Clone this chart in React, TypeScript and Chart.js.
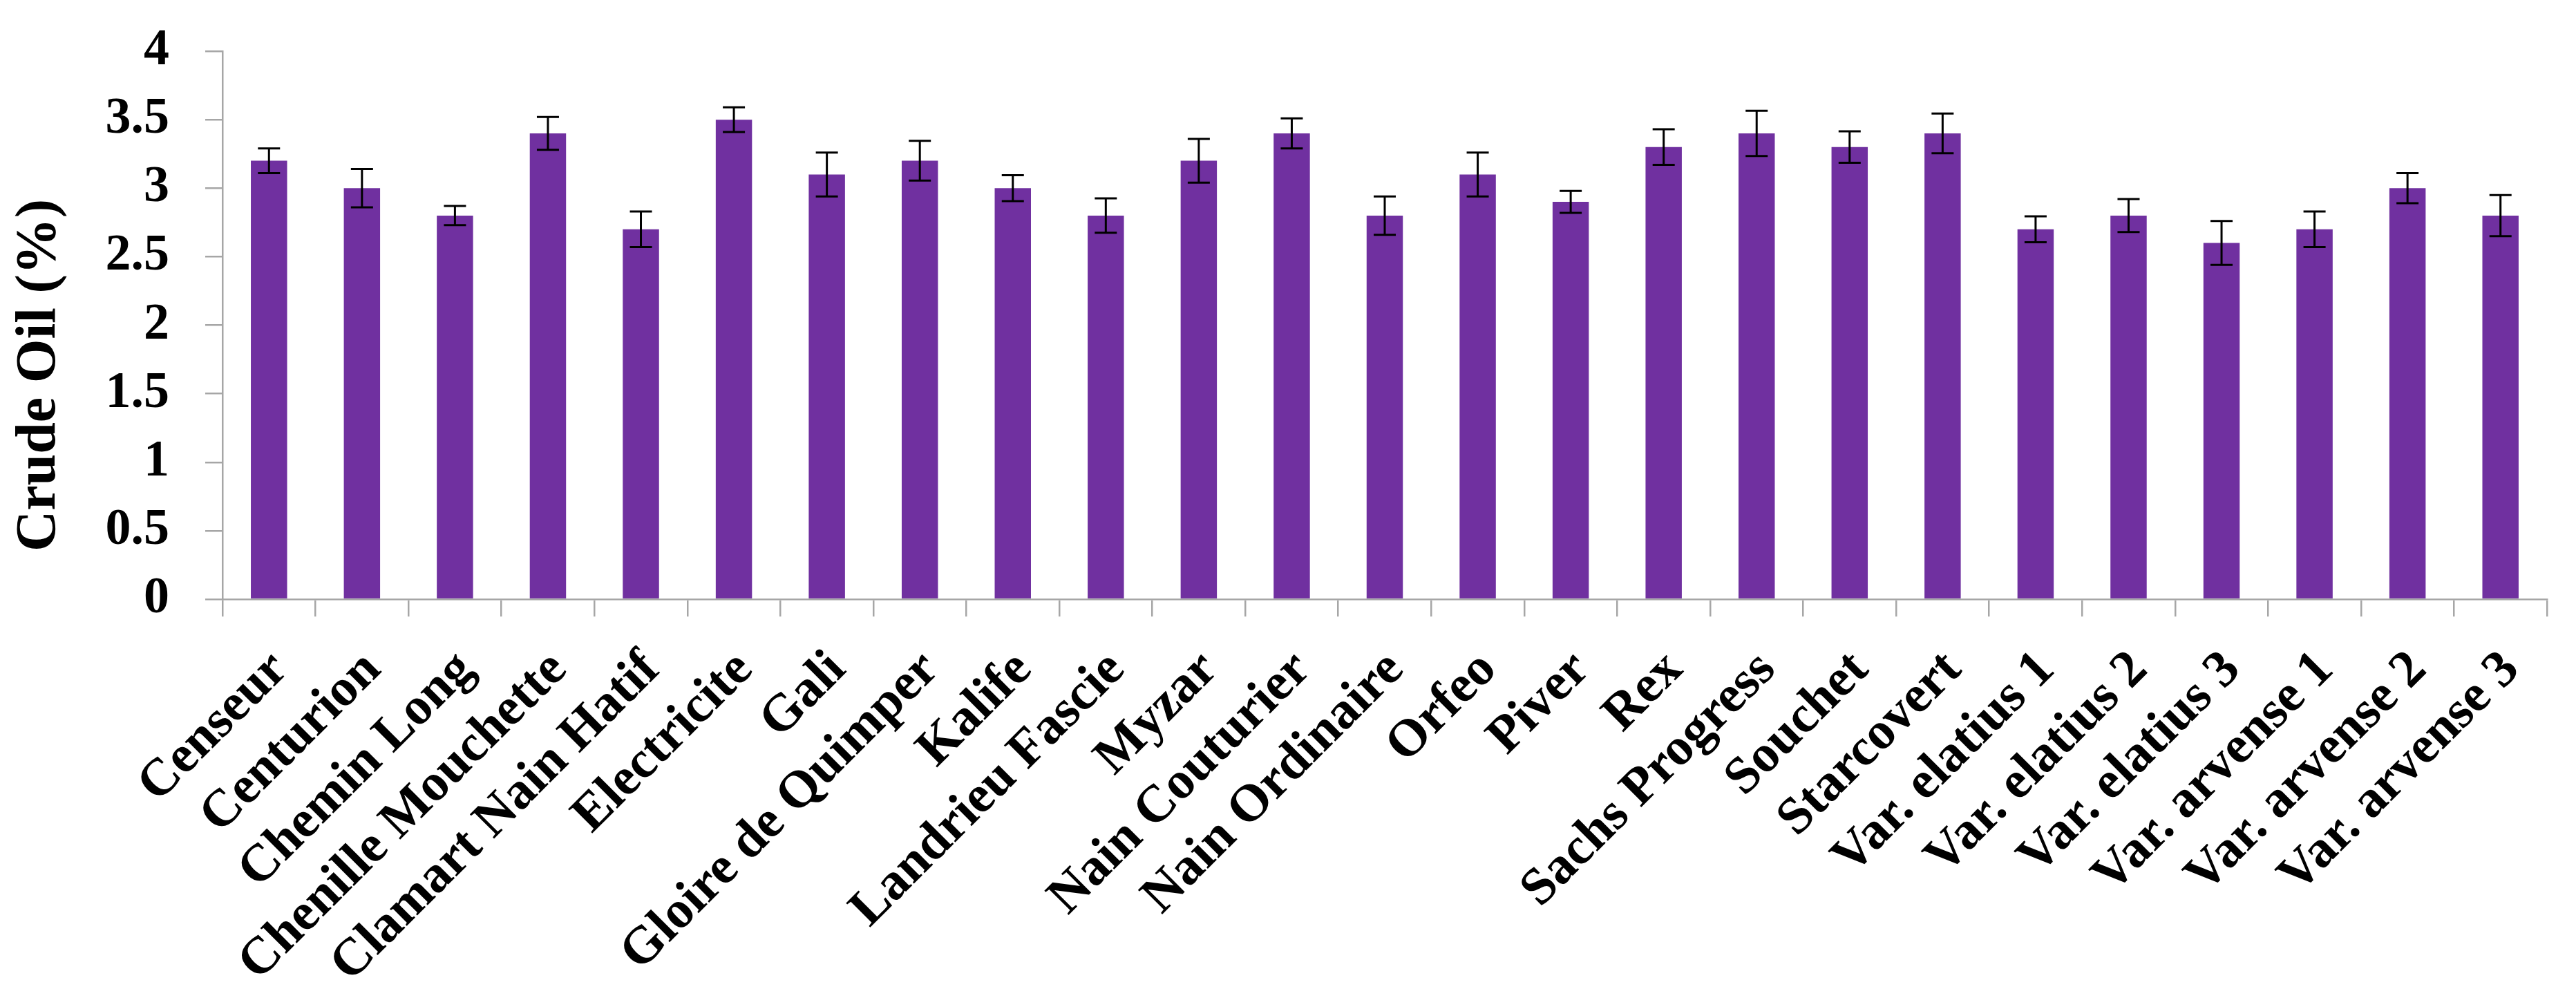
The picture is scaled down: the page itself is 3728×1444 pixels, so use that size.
import React, { useEffect, useRef } from "react";
import { Chart, registerables } from "chart.js";

Chart.register(...registerables);

const categories = [
  "Censeur", "Centurion", "Chemin Long", "Chenille Mouchette", "Clamart Nain Hatif",
  "Electricite", "Gali", "Gloire de Quimper", "Kalife", "Landrieu Fascie",
  "Myzar", "Nain Couturier", "Nain Ordinaire", "Orfeo", "Piver",
  "Rex", "Sachs Progress", "Souchet", "Starcovert", "Var. elatius 1",
  "Var. elatius 2", "Var. elatius 3", "Var. arvense 1", "Var. arvense 2", "Var. arvense 3",
];
const crudeOil = [
  3.2, 3.0, 2.8, 3.4, 2.7,
  3.5, 3.1, 3.2, 3.0, 2.8,
  3.2, 3.4, 2.8, 3.1, 2.9,
  3.3, 3.4, 3.3, 3.4, 2.7,
  2.8, 2.6, 2.7, 3.0, 2.8,
];
const errors = [
  0.09, 0.14, 0.07, 0.12, 0.13,
  0.09, 0.16, 0.145, 0.095, 0.125,
  0.16, 0.11, 0.14, 0.16, 0.08,
  0.13, 0.165, 0.115, 0.145, 0.095,
  0.12, 0.16, 0.13, 0.11, 0.15,
];
const yTicks = [0, 0.5, 1, 1.5, 2, 2.5, 3, 3.5, 4];
const yTitle = "Crude Oil (%)";

const W = 3728;
const H = 1444;
const AXIS_GRAY = "#a6a6a6";
const SERIF = "'Liberation Serif', 'Times New Roman', serif";

const errorBarPlugin = {
  id: "errorBars",
  afterDatasetsDraw(chart: any) {
    const meta = chart.getDatasetMeta(0);
    const yScale = chart.scales.y;
    const ctx = chart.ctx;
    ctx.save();
    ctx.strokeStyle = "#000000";
    ctx.lineWidth = 3;
    meta.data.forEach((bar: any, i: number) => {
      const v = crudeOil[i];
      const e = errors[i];
      const yt = yScale.getPixelForValue(v + e);
      const yb = yScale.getPixelForValue(v - e);
      const x = bar.x;
      const cap = 16;
      ctx.beginPath();
      ctx.moveTo(x, yt);
      ctx.lineTo(x, yb);
      ctx.moveTo(x - cap, yt);
      ctx.lineTo(x + cap, yt);
      ctx.moveTo(x - cap, yb);
      ctx.lineTo(x + cap, yb);
      ctx.stroke();
    });
    ctx.restore();
  },
};

// Y-axis title (Excel places it a little below the axis centre)
const yTitlePlugin = {
  id: "yTitle",
  afterDraw(chart: any) {
    const ctx = chart.ctx;
    ctx.save();
    ctx.translate(58, 543);
    ctx.rotate(-Math.PI / 2);
    ctx.textAlign = "center";
    ctx.textBaseline = "middle";
    ctx.fillStyle = "#000000";
    ctx.font = `bold 82px ${SERIF}`;
    ctx.fillText(yTitle, 0, 0);
    ctx.restore();
  },
};

export default function App() {
  const canvasRef = useRef<HTMLCanvasElement | null>(null);

  useEffect(() => {
    const canvas = canvasRef.current;
    if (!canvas) return;
    const chart = new Chart(canvas, {
      type: "bar",
      data: {
        labels: categories,
        datasets: [
          {
            label: yTitle,
            data: crudeOil,
            backgroundColor: "#7030A0",
            borderWidth: 0,
            barPercentage: 0.39,
            categoryPercentage: 1,
          },
        ],
      },
      options: {
        responsive: false,
        animation: false,
        devicePixelRatio: 1,
        layout: { padding: { top: 74, right: 42, left: 0, bottom: 0 } },
        plugins: {
          legend: { display: false },
          tooltip: { enabled: false },
          title: { display: false },
        },
        scales: {
          x: {
            offset: true,
            grid: {
              offset: true,
              drawOnChartArea: false,
              drawTicks: true,
              tickLength: 25,
              tickColor: AXIS_GRAY,
              tickWidth: 2.5,
              color: AXIS_GRAY,
              lineWidth: 2.5,
            },
            border: { display: true, color: AXIS_GRAY, width: 2.5 },
            ticks: {
              autoSkip: false,
              maxRotation: 45,
              minRotation: 45,
              padding: 33,
              labelOffset: 16,
              color: "#000000",
              font: { family: SERIF, size: 76, weight: "bold" },
            },
            afterFit(scale: any) {
              scale.height = H - 867;
              scale.paddingLeft = 0;
              scale.paddingRight = 0;
            },
          },
          y: {
            min: 0,
            max: 4,
            grid: {
              drawOnChartArea: false,
              drawTicks: true,
              tickLength: 25,
              tickColor: AXIS_GRAY,
              tickWidth: 2.5,
              color: AXIS_GRAY,
              lineWidth: 2.5,
            },
            border: { display: true, color: AXIS_GRAY, width: 2.5 },
            afterBuildTicks(scale: any) {
              scale.ticks = yTicks.map((v) => ({ value: v }));
            },
            ticks: {
              padding: 52,
              color: "#000000",
              font: { family: SERIF, size: 74, weight: "bold" },
              callback: (v: any) => String(v),
            },
            title: { display: false },
            afterFit(scale: any) {
              scale.width = 322;
              scale.paddingTop = 0;
              scale.paddingBottom = 0;
            },
          },
        },
      },
      plugins: [errorBarPlugin, yTitlePlugin],
    });
    return () => chart.destroy();
  }, []);

  return (
    <div
      style={{
        position: "fixed",
        left: 0,
        top: 0,
        width: W,
        height: H,
        background: "#ffffff",
      }}
    >
      <canvas
        ref={canvasRef}
        width={W}
        height={H}
        style={{ width: W, height: H, display: "block" }}
      />
    </div>
  );
}
